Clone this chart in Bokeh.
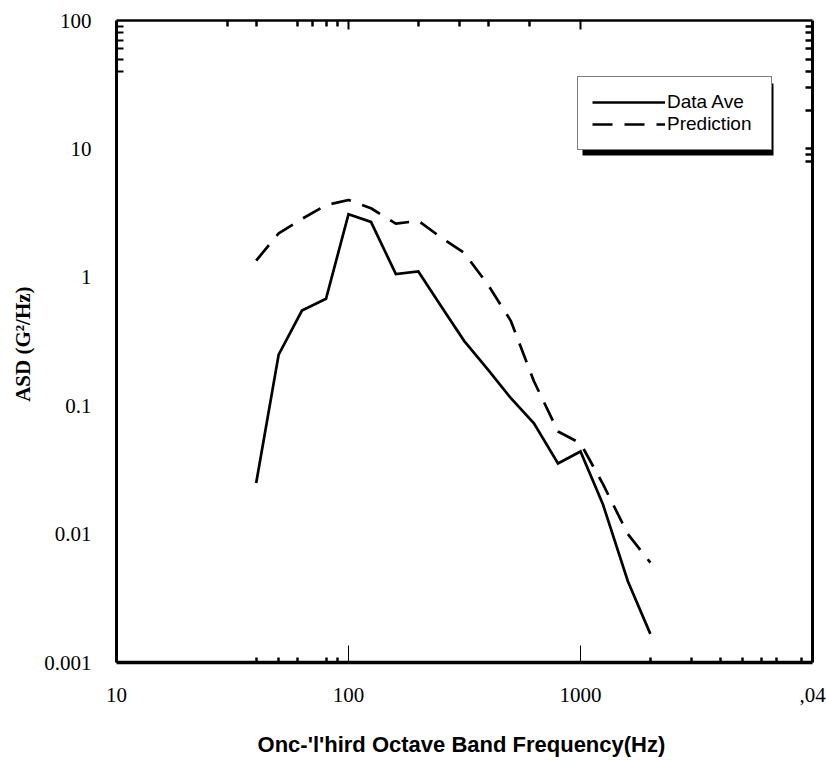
from bokeh.plotting import figure
from bokeh.models import (LogAxis, FixedTicker, Legend, LegendItem,
                          BoxAnnotation, Range1d, CustomJSTickFormatter)
from bokeh.embed import file_html
from bokeh.resources import INLINE

# ---------------- data ----------------
freq = [40, 50, 63, 80, 100, 125, 160, 200, 250, 315, 400, 500, 630, 800,
        1000, 1250, 1600, 2000]
data_ave = [0.025, 0.25, 0.55, 0.68, 3.1, 2.7, 1.06, 1.11, 0.6, 0.32, 0.19,
            0.115, 0.073, 0.0355, 0.044, 0.017, 0.0043, 0.00167]
prediction = [1.35, 2.2, 2.85, 3.65, 4.0, 3.45, 2.62, 2.75, 2.05, 1.55, 0.87,
              0.46, 0.155, 0.063, 0.051, 0.0245, 0.01, 0.006]

x_tick_values = [10, 100, 1000, 10000]
x_tick_labels = ["10", "100", "1000", ",04"]
y_tick_values = [0.001, 0.01, 0.1, 1, 10, 100]
y_tick_labels = ["0.001", "0.01", "0.1", "1", "10", "100"]

bottom_minor = [40, 50, 60, 80, 90, 2000, 3000, 4000, 5000, 6000, 7000, 9000]
top_major = [100, 1000]
top_minor = [30, 40, 60, 70, 80, 90, 200, 300, 400, 600]
left_minor = [90, 80, 70, 60, 50, 40]
right_minor = [90, 80, 70, 60, 50, 40, 30, 20, 10, 9, 8]

x_title = "Onc-'l'hird Octave Band  Frequency(Hz)"
y_title = "ASD  (G\u00b2/Hz)"
series_names = ["Data Ave", "Prediction"]

# ---------------- figure ----------------
p = figure(width=826, height=761, x_axis_type="log", y_axis_type="log",
           x_range=Range1d(10, 10000), y_range=Range1d(0.001, 100),
           output_backend="svg", toolbar_location=None,
           min_border_left=116, min_border_right=14,
           min_border_top=20, min_border_bottom=99)
p.xgrid.visible = False
p.ygrid.visible = False
p.outline_line_color = None
p.background_fill_color = "white"
p.border_fill_color = "white"

LABEL_JS = """
let best = -1;
for (let i = 0; i < vals.length; i++) {
  if (Math.abs(Math.log10(vals[i]) - Math.log10(tick)) < 1e-6) { best = i; }
}
return best >= 0 ? labs[best] : "";
"""


def style_axis(ax, majors, minors, maj_len, maj_w, min_len, min_w, line_w):
    ax.ticker = FixedTicker(ticks=majors, minor_ticks=minors)
    ax.axis_line_color = "black"
    ax.axis_line_width = line_w
    ax.major_tick_in = maj_len
    ax.major_tick_out = 0
    ax.major_tick_line_width = maj_w
    ax.major_tick_line_color = "black"
    ax.minor_tick_in = min_len
    ax.minor_tick_out = 0
    ax.minor_tick_line_width = min_w
    ax.minor_tick_line_color = "black"


xb = p.xaxis[0]
style_axis(xb, x_tick_values, bottom_minor, 17, 1, 5, 2.5, 3.5)
xb.formatter = CustomJSTickFormatter(args=dict(vals=x_tick_values, labs=x_tick_labels),
                                     code=LABEL_JS)
xb.major_label_text_font = "Liberation Serif"
xb.major_label_text_font_size = "21px"
xb.major_label_text_color = "black"
xb.major_label_standoff = 25
xb.axis_label = x_title
xb.axis_label_text_font = "Liberation Sans"
xb.axis_label_text_font_style = "bold"
xb.axis_label_text_font_size = "22px"
xb.axis_label_text_color = "black"
xb.axis_label_standoff = 27

yl = p.yaxis[0]
style_axis(yl, y_tick_values, left_minor, 0, 1, 7, 2, 3)
yl.formatter = CustomJSTickFormatter(args=dict(vals=y_tick_values, labs=y_tick_labels),
                                     code=LABEL_JS)
yl.major_label_text_font = "Liberation Serif"
yl.major_label_text_font_size = "21px"
yl.major_label_text_color = "black"
yl.major_label_standoff = 25
yl.axis_label = y_title
yl.axis_label_text_font = "Liberation Serif"
yl.axis_label_text_font_style = "bold"
yl.axis_label_text_font_size = "21px"
yl.axis_label_text_color = "black"
yl.axis_label_standoff = 6

top_ax = LogAxis()
style_axis(top_ax, top_major, top_minor, 9, 2, 6, 2.5, 2.5)
top_ax.major_label_text_color = None
top_ax.major_label_standoff = 0
p.add_layout(top_ax, "above")

right_ax = LogAxis()
style_axis(right_ax, [], right_minor, 7, 2.5, 7, 2.5, 3)
right_ax.major_label_text_color = None
right_ax.major_label_standoff = 0
p.add_layout(right_ax, "right")

# ---------------- series ----------------
r1 = p.line(freq, data_ave, line_color="black", line_width=2.7,
            line_join="miter")
r2 = p.line(freq, prediction, line_color="black", line_width=2.7,
            line_dash="20 12")

# ---------------- legend with drop shadow ----------------
shadow = BoxAnnotation(left=466, right=657, top=579, bottom=507,
                       left_units="screen", right_units="screen",
                       top_units="screen", bottom_units="screen",
                       fill_color="black", fill_alpha=1.0, line_color=None)
p.add_layout(shadow)

legend = Legend(items=[LegendItem(label=series_names[0], renderers=[r1]),
                       LegendItem(label=series_names[1], renderers=[r2])],
                location=(461, 512), margin=0, padding=14, spacing=0,
                glyph_width=73, glyph_height=22, label_height=22,
                label_width=90, label_standoff=2,
                label_text_font="Liberation Sans", label_text_font_size="19px",
                label_text_color="black",
                border_line_color="black", border_line_width=1.2,
                background_fill_color="white", background_fill_alpha=1.0)
p.add_layout(legend)

open("out.html", "w").write(file_html(p, INLINE))
